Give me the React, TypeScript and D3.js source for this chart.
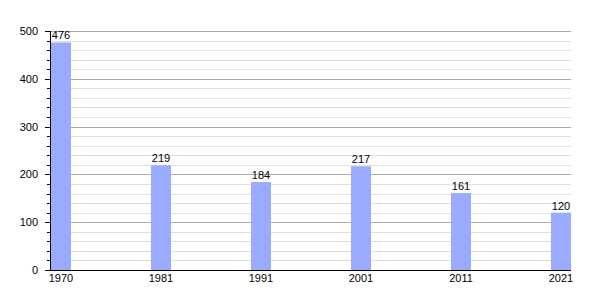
import React from "react";
import * as d3 from "d3";

const years = ["1970", "1981", "1991", "2001", "2011", "2021"];
const population = [476, 219, 184, 217, 161, 120];
const majorTicks = [0, 100, 200, 300, 400, 500];

export default function App() {
  const W = 600, H = 300;
  const x0 = 50, x1 = 571, yBottom = 270, yTop = 31;
  const y = d3.scaleLinear().domain([0, 500]).range([yBottom, yTop]);
  const x = d3.scalePoint<string>().domain(years).range([61, 561]);
  const barW = 20;
  const minor = d3.range(0, 501, 20);
  const font = "Liberation Sans, Arial, sans-serif";
  return (
    <svg width={W} height={H} style={{ position: "absolute", left: 0, top: 0, background: "#fff" }} fontFamily={font}>
      {minor.filter(v => v % 100 !== 0).map(v => (
        <line key={"m" + v} x1={x0} x2={x1} y1={Math.round(y(v)) + 0.5} y2={Math.round(y(v)) + 0.5} stroke="#e0e0e0" strokeWidth={1} />
      ))}
      {majorTicks.filter(v => v > 0).map(v => (
        <line key={"M" + v} x1={x0} x2={x1} y1={Math.round(y(v)) + 0.5} y2={Math.round(y(v)) + 0.5} stroke="#aaaaaa" strokeWidth={1} />
      ))}
      {years.map((yr, i) => (
        <rect key={yr} x={(x(yr) as number) - barW / 2} y={y(population[i])} width={barW} height={yBottom - y(population[i])} fill="#99aaff" />
      ))}
      {years.map((yr, i) => (
        <text key={"v" + yr} x={x(yr) as number} y={y(population[i]) - 3} textAnchor="middle" fontSize={11} fill="#000">{population[i]}</text>
      ))}
      {minor.map(v => (
        <line key={"t" + v} x1={v % 100 === 0 ? 45 : 47} x2={x0} y1={Math.round(y(v)) + 0.5} y2={Math.round(y(v)) + 0.5} stroke="#000" strokeWidth={1} />
      ))}
      <line x1={x0 + 0.5} x2={x0 + 0.5} y1={yTop} y2={yBottom} stroke="#000" strokeWidth={1} />
      <line x1={45} x2={x1} y1={yBottom + 0.5} y2={yBottom + 0.5} stroke="#000" strokeWidth={1} />
      {majorTicks.map(v => (
        <text key={"l" + v} x={38} y={y(v) + 4} textAnchor="end" fontSize={11} fill="#000">{v}</text>
      ))}
      {years.map(yr => (
        <text key={"x" + yr} x={x(yr) as number} y={282} textAnchor="middle" fontSize={11} fill="#000">{yr}</text>
      ))}
    </svg>
  );
}
